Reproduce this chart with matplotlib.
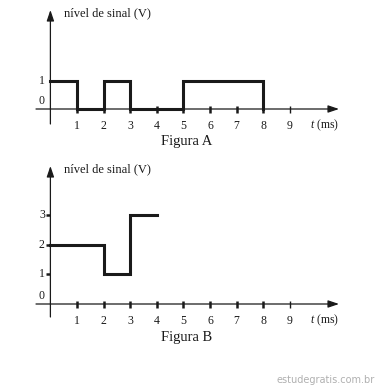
import matplotlib
matplotlib.use("Agg")
import matplotlib.pyplot as plt

plt.rcParams["mathtext.fontset"] = "custom"
plt.rcParams["mathtext.it"] = "Liberation Serif:italic"
plt.rcParams["mathtext.rm"] = "Liberation Serif"

# Data
t_A = [0, 1, 2, 3, 5, 8]
v_A = [1, 0, 1, 0, 1, 0]
t_B = [0, 2, 3, 4]
v_B = [2, 1, 3, 3]
x_ticks = [1, 2, 3, 4, 5, 6, 7, 8, 9]
yticks_A = [0, 1]
yticks_B = [0, 1, 2, 3]
ylabel = "nível de sinal (V)"
titles = ["Figura A", "Figura B"]

W, H = 378, 388
fig = plt.figure(figsize=(W / 100, H / 100), dpi=100)
SERIF = "Liberation Serif"

# pixel mapping: x_px = X0 + UX*t
X0, UX = 50.4, 26.6

def make_axes(top_px, bot_px, y0_px, uy):
    ax = fig.add_axes([0, 1 - bot_px / H, 1, (bot_px - top_px) / H])
    ax.set_xlim(-X0 / UX, (W - X0) / UX)
    ax.set_ylim((y0_px - bot_px) / uy, (y0_px - top_px) / uy)
    ax.axis("off")
    return ax

def px_to_v(px, y0, uy):
    return (y0 - px) / uy

axes_cfg = [
    dict(top=0, bot=150, y0=109, uy=28.0, ytop=10, ybot=124, lab_y=13, tick_y=126, title_y=141, t=t_A, v=v_A, yt=yticks_A),
    dict(top=150, bot=388, y0=304, uy=29.7, ytop=166, ybot=317, lab_y=169, tick_y=321, title_y=337, t=t_B, v=v_B, yt=yticks_B),
]

xmin_t = (36 - X0) / UX
xmax_t = (339 - X0) / UX
col = "#1a1a1a"

for i, c in enumerate(axes_cfg):
    ax = make_axes(c["top"], c["bot"], c["y0"], c["uy"])
    pv = lambda px: px_to_v(px, c["y0"], c["uy"])
    # x axis with arrow
    ax.annotate("", xy=(xmax_t, 0), xytext=(xmin_t, 0),
                arrowprops=dict(arrowstyle="-|>,head_length=0.65,head_width=0.22", color=col, lw=0.9, shrinkA=0, shrinkB=0))
    # y axis with arrow
    ax.annotate("", xy=(0, pv(c["ytop"])), xytext=(0, pv(c["ybot"])),
                arrowprops=dict(arrowstyle="-|>,head_length=0.65,head_width=0.22", color=col, lw=0.9, shrinkA=0, shrinkB=0))
    # x ticks
    dv = 3.5 / c["uy"]
    for xt in x_ticks:
        lw = 1.0 if xt == 9 else 1.8
        ax.plot([xt, xt], [-dv, dv], color=col, lw=lw, solid_capstyle="butt")
        ax.text(xt, pv(c["tick_y"]), str(xt), ha="center", va="center", fontsize=8.5, family=SERIF, color=col)
    # y ticks
    for yt in c["yt"]:
        if yt > 0:
            if i == 1:
                ax.plot([-4 / UX, 0], [yt, yt], color=col, lw=1.8, solid_capstyle="butt")
            ax.text(-8.5 / UX, yt, str(yt), ha="center", va="center", fontsize=8.5, family=SERIF, color=col)
        else:
            ax.text(-8.5 / UX, pv(c["y0"] - 8), "0", ha="center", va="center", fontsize=8.5, family=SERIF, color=col)
    # t (ms) label
    ax.text((325 - X0) / UX, pv(c["tick_y"] - 1), r"$\mathit{t}$ (ms)", ha="center", va="center",
            fontsize=8.5, family=SERIF, color=col)
    # ylabel
    ax.text((64 - X0) / UX, pv(c["lab_y"]), ylabel, ha="left", va="center", fontsize=9, family=SERIF, color=col)
    # title
    ax.text((187 - X0) / UX, pv(c["title_y"]), titles[i], ha="center", va="center", fontsize=10.5, family=SERIF, color=col)
    # signal
    ax.step(c["t"], c["v"], where="post", color=col, lw=2.2, solid_joinstyle="miter")

fig.text(375 / W, 1 - 380 / H, "estudegratis.com.br", ha="right", va="center", fontsize=7,
         family="DejaVu Sans", color="#b0b0b0")

fig.savefig("out.png", dpi=100)
